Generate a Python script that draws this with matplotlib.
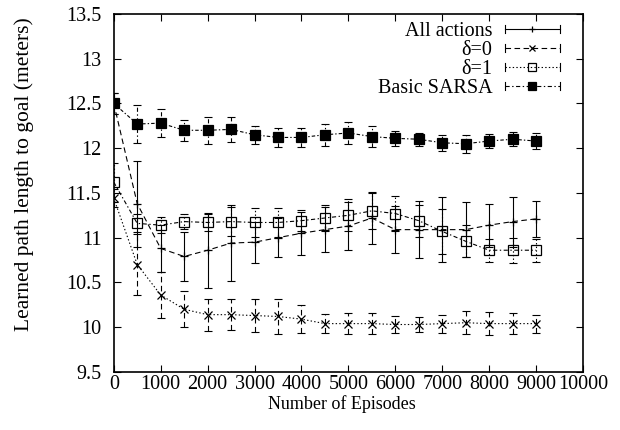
# Learned path length vs. number of episodes (gnuplot-style error bar chart)

import matplotlib
matplotlib.use("Agg")
import matplotlib.pyplot as plt
from matplotlib.lines import Line2D
from matplotlib.legend_handler import HandlerBase

# ---- data ----
episodes = [0, 500, 1000, 1500, 2000, 2500, 3000, 3500, 4000, 4500,
            5000, 5500, 6000, 6500, 7000, 7500, 8000, 8500, 9000]

all_actions = [12.50, 11.38, 10.88, 10.79, 10.86, 10.94, 10.95, 11.00, 11.05, 11.09,
               11.13, 11.22, 11.09, 11.09, 11.09, 11.09, 11.14, 11.18, 11.21]
all_actions_err = [0.12, 0.48, 0.26, 0.27, 0.42, 0.42, 0.23, 0.22, 0.24, 0.25,
                   0.27, 0.29, 0.26, 0.32, 0.36, 0.31, 0.24, 0.28, 0.20]

delta0 = [11.44, 10.70, 10.36, 10.20, 10.14, 10.14, 10.13, 10.12, 10.09, 10.04,
          10.04, 10.04, 10.03, 10.03, 10.04, 10.05, 10.04, 10.04, 10.04]
delta0_err = [0.10, 0.34, 0.26, 0.20, 0.18, 0.17, 0.18, 0.20, 0.16, 0.11,
              0.12, 0.12, 0.10, 0.08, 0.10, 0.13, 0.13, 0.12, 0.10]

delta1 = [11.62, 11.16, 11.14, 11.18, 11.17, 11.18, 11.17, 11.17, 11.19, 11.22,
          11.25, 11.30, 11.27, 11.19, 11.07, 10.96, 10.86, 10.86, 10.86]
delta1_err = [0.22, 0.10, 0.09, 0.08, 0.10, 0.16, 0.16, 0.16, 0.12, 0.15,
              0.18, 0.20, 0.20, 0.18, 0.25, 0.18, 0.13, 0.14, 0.13]

sarsa = [12.50, 12.27, 12.28, 12.20, 12.20, 12.21, 12.15, 12.12, 12.12, 12.15,
         12.17, 12.13, 12.11, 12.10, 12.06, 12.05, 12.08, 12.10, 12.08]
sarsa_err = [0.12, 0.21, 0.16, 0.12, 0.15, 0.14, 0.10, 0.11, 0.11, 0.12,
             0.12, 0.12, 0.08, 0.07, 0.09, 0.10, 0.08, 0.08, 0.09]

labels = ["All actions", "\u03b4=0", "\u03b4=1", "Basic SARSA"]
x_ticks = [0, 1000, 2000, 3000, 4000, 5000, 6000, 7000, 8000, 9000, 10000]
y_ticks = [9.5, 10, 10.5, 11, 11.5, 12, 12.5, 13, 13.5]

# gnuplot-like dash patterns (in points)
SOLID = "-"
DASHED = (0, (4, 2.5))
DOTTED = (0, (1, 1.6))
DASHDOT = (0, (3, 1.8, 1, 1.8))
DASHDOTDOT = (0, (2.5, 1.5, 1, 1.5))

plt.rcParams["font.family"] = ["Liberation Serif", "DejaVu Serif"]
plt.rcParams["font.size"] = 14.5
plt.rcParams["lines.scale_dashes"] = False


class GnuplotKey(HandlerBase):
    """Legend sample drawn like gnuplot: horizontal line, end caps, marker in middle."""

    def create_artists(self, legend, orig_handle, xdescent, ydescent,
                       width, height, fontsize, trans):
        x0, x1 = -xdescent, -xdescent + width
        y = -ydescent + height / 2
        cap = 3.0
        line = Line2D([x0, x1], [y, y])
        line.update_from(orig_handle)
        line.set_marker("None")
        caps = []
        for xc in (x0, x1):
            c = Line2D([xc, xc], [y - cap, y + cap], color="k", lw=0.8)
            caps.append(c)
        mark = Line2D([(x0 + x1) / 2], [y])
        mark.update_from(orig_handle)
        mark.set_linestyle("None")
        mark.set_markersize(orig_handle.get_markersize() * 0.8)
        artists = [line] + caps + [mark]
        for a in artists:
            a.set_transform(trans)
        return artists


fig = plt.figure(figsize=(6.2, 4.3), dpi=100)
ax = fig.add_axes([0.1835, 0.135, 0.7568, 0.8326])

series = [
    (all_actions, all_actions_err, SOLID, DASHED, "+", "k", 6),
    (delta0, delta0_err, DASHED, DOTTED, "x", "k", 5.5),
    (delta1, delta1_err, DOTTED, DASHDOT, "s", "none", 6.5),
    (sarsa, sarsa_err, DASHDOT, DASHDOTDOT, "s", "k", 6.5),
]

proxies = []
for vals, err, bar_ls, line_ls, marker, mfc, ms in series:
    eb = ax.errorbar(episodes, vals, yerr=err, fmt="none", ecolor="k",
                     elinewidth=0.8, capsize=3, capthick=0.8)
    eb[2][0].set_linestyle(bar_ls)
    ax.plot(episodes, vals, linestyle=line_ls, color="k", lw=0.8,
            marker=marker, markersize=ms, markerfacecolor=mfc,
            markeredgecolor="k", markeredgewidth=0.9)
    proxies.append(Line2D([], [], linestyle=bar_ls, color="k", lw=0.8,
                          marker=marker, markersize=ms, markerfacecolor=mfc,
                          markeredgecolor="k", markeredgewidth=0.9))

ax.set_xlim(0, 10000)
ax.set_ylim(9.5, 13.5)
ax.set_xticks(x_ticks)
ax.set_xticklabels([str(t) for t in x_ticks])
ax.set_yticks(y_ticks)
ax.set_yticklabels([f"{t:g}" for t in y_ticks])
ax.tick_params(direction="in", top=True, right=True, length=5, width=0.8)
ax.tick_params(axis="x", pad=2.5)
ax.tick_params(axis="y", pad=9)
for sp in ax.spines.values():
    sp.set_linewidth(1.2)

ax.set_xlabel("Number of Episodes", va="center", fontsize=13)
ax.xaxis.set_label_coords(0.487, -0.09)
ax.set_ylabel("Learned path length to goal (meters)", va="center", fontsize=15.5)
ax.yaxis.set_label_coords(-0.19, 0.553)

ax.legend(proxies, labels, handler_map={Line2D: GnuplotKey()},
          loc="upper right", bbox_to_anchor=(0.951, 0.978), frameon=False,
          markerfirst=False, handlelength=2.75, handletextpad=0.6,
          labelspacing=0.0, borderpad=0, borderaxespad=0)

fig.savefig("out.png", dpi=100)
